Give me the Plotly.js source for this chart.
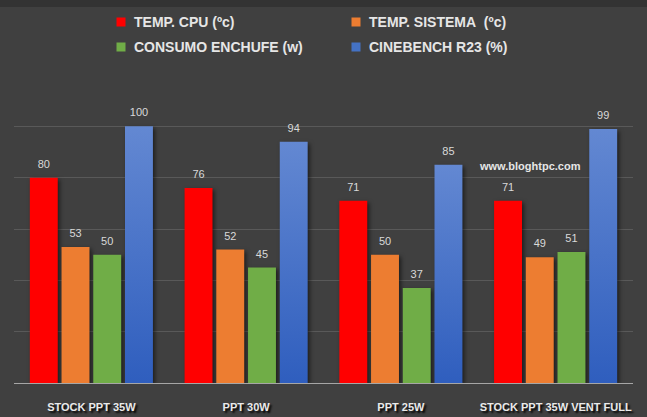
<!DOCTYPE html>
<html>
<head>
<meta charset="utf-8">
<script src="https://cdn.plot.ly/plotly-3.0.1.min.js"></script>
<style>
html,body{margin:0;padding:0;background:#404040;}
#chart{width:647px;height:417px;}
.barlayer .trace path{filter:drop-shadow(2px 2px 2px rgba(0,0,0,0.55));}
</style>
</head>
<body>
<div id="chart"></div>
<script>
const categories = ["STOCK PPT 35W", "PPT 30W", "PPT 25W", "STOCK PPT 35W VENT FULL"];
const seriesNames = ["TEMP. CPU (ºc)", "TEMP. SISTEMA  (ºc)", "CONSUMO ENCHUFE (w)", "CINEBENCH R23 (%)"];
const cpuTemp = [80, 76, 71, 71];
const sysTemp = [53, 52, 50, 49];
const power = [50, 45, 37, 51];
const cinebench = [100, 94, 85, 99];
const colors = ["#FF0000", "#ED7D31", "#70AD47", "#4472C4"];
const yTicks = [0, 20, 40, 60, 80, 100];

const W = 647, H = 417, ML = 14, MR = 14, MT = 75, MB = 34;
const PW = W - ML - MR, PH = H - MT - MB;
const px2x = px => (px - ML) / PW;
const py2y = py => (H - MB - py) / PH;

const allValues = [cpuTemp, sysTemp, power, cinebench];
const traces = allValues.map((vals, i) => ({
  type: "bar",
  name: seriesNames[i],
  x: categories,
  y: vals,
  marker: {color: colors[i]},
  text: vals.map(v => String(v)),
  textposition: "outside",
  cliponaxis: false,
  textfont: {family: "Liberation Sans, Arial, sans-serif", size: 11, color: "#D9D9D9"},
  hoverinfo: "none",
  showlegend: false
}));

// manual legend: 2 columns x 2 rows
const legendPos = [[121, 22], [356, 22], [121, 47], [356, 47]];
const legendShapes = seriesNames.map((n, i) => ({
  type: "rect", xref: "paper", yref: "paper",
  x0: px2x(legendPos[i][0] - 4.5), x1: px2x(legendPos[i][0] + 4.5),
  y0: py2y(legendPos[i][1] + 4.5), y1: py2y(legendPos[i][1] - 4.5),
  fillcolor: colors[i], line: {width: 0}
}));
const legendAnns = seriesNames.map((n, i) => ({
  text: n.replace(/  /g, "&nbsp; "),
  xref: "paper", yref: "paper",
  x: px2x(legendPos[i][0] + 11), y: py2y(legendPos[i][1]),
  xanchor: "left", yanchor: "middle", showarrow: false,
  font: {family: "Liberation Sans, Arial, sans-serif", size: 14, color: "#E6E6E6", weight: "bold"}
}));

const layout = {
  width: W, height: H,
  paper_bgcolor: "#404040",
  plot_bgcolor: "#404040",
  margin: {l: ML, r: MR, t: MT, b: MB},
  barmode: "group",
  bargap: 0.18,
  bargroupgap: 0.12,
  showlegend: false,
  xaxis: {
    type: "category",
    showline: true, linecolor: "#A6A6A6", linewidth: 1,
    showgrid: false, zeroline: false,
    ticks: "", ticklabelstandoff: 14,
    tickfont: {family: "Liberation Sans, Arial, sans-serif", size: 11, color: "#EAEAEA", weight: "bold", shadow: "2px 2px 2px #000"}
  },
  yaxis: {
    range: [0, 120],
    tickvals: yTicks,
    showticklabels: false,
    showgrid: true, gridcolor: "#595959", gridwidth: 1,
    zeroline: false, showline: false, fixedrange: true
  },
  shapes: [{
    type: "rect", xref: "paper", yref: "paper",
    x0: -0.05, x1: 1.05, y0: py2y(7), y1: 1.4,
    fillcolor: "#333333", line: {width: 0}, layer: "below"
  }].concat(legendShapes),
  annotations: [{
    text: "www.bloghtpc.com",
    xref: "paper", yref: "paper",
    x: px2x(530), y: py2y(166),
    xanchor: "center", yanchor: "middle",
    showarrow: false,
    font: {family: "Liberation Sans, Arial, sans-serif", size: 11, color: "#E6E6E6", weight: "bold"}
  }].concat(legendAnns)
};

Plotly.newPlot("chart", traces, layout, {displayModeBar: false, staticPlot: true}).then(gd => {
  const svg = gd.querySelector("svg.main-svg");
  const ns = "http://www.w3.org/2000/svg";
  let defs = svg.querySelector("defs");
  if (!defs) { defs = document.createElementNS(ns, "defs"); svg.insertBefore(defs, svg.firstChild); }
  const lg = document.createElementNS(ns, "linearGradient");
  lg.setAttribute("id", "blueGrad");
  lg.setAttribute("x1", "0"); lg.setAttribute("y1", "0");
  lg.setAttribute("x2", "0"); lg.setAttribute("y2", "1");
  [["0", "#6388D2"], ["1", "#2F5EBE"]].forEach(([o, c]) => {
    const s = document.createElementNS(ns, "stop");
    s.setAttribute("offset", o); s.setAttribute("stop-color", c);
    lg.appendChild(s);
  });
  defs.appendChild(lg);
  const barTraces = gd.querySelectorAll(".barlayer .trace");
  const blue = barTraces[3];
  if (blue) blue.querySelectorAll(".point path").forEach(p => { p.style.fill = "url(#blueGrad)"; });
  // lift value labels a little, as in the reference
  gd.querySelectorAll(".barlayer text.bartext").forEach(t => {
    const tr = t.getAttribute("transform") || "";
    t.setAttribute("transform", "translate(0,-5) " + tr);
  });
});
</script>
</body>
</html>
